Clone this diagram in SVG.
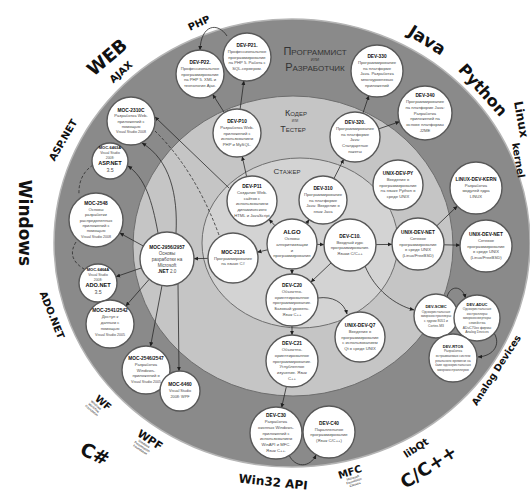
<svg xmlns="http://www.w3.org/2000/svg" width="530" height="497" viewBox="0 0 530 497">
<defs>
<style>
.n{fill:#fff;stroke:#585858;stroke-width:1.4}
.t{font-family:"Liberation Sans",sans-serif;font-weight:bold;font-size:4.8px;fill:#111}
.b{font-family:"Liberation Sans",sans-serif;font-size:4.2px;fill:#4a4a4a;text-anchor:middle}
.s{font-size:3.4px}
.s .t{font-size:4px}
.big{font-family:"Liberation Sans",sans-serif;font-weight:bold;font-size:5.6px;fill:#111}
.num{font-size:5.2px}
.lbl{font-family:"DejaVu Sans",sans-serif;font-weight:bold;fill:#111;text-anchor:middle}
.tiny{font-family:"Liberation Sans",sans-serif;font-size:3.2px;fill:#222;text-anchor:middle}
.rg{font-family:"Liberation Sans",sans-serif;font-variant:small-caps;fill:#333;text-anchor:middle}
.c{fill:none;stroke:#2a2a2a;stroke-width:0.8}
.d{stroke-dasharray:3 2}
</style>
<marker id="ar" viewBox="0 0 8 8" refX="7.5" refY="4" markerWidth="4.5" markerHeight="4.5" markerUnits="userSpaceOnUse" orient="auto"><path d="M0,0.5L8,4L0,7.5z" fill="#222"/></marker>
</defs>
<rect width="530" height="497" fill="#fff"/>

<g id="regions">
<ellipse cx="292" cy="243" rx="238" ry="224" fill="#8a8a8a" stroke="#b5b5b5" stroke-width="1.5"/>
<ellipse cx="293" cy="246" rx="160" ry="150" fill="#c5c5c5" stroke="#6e6e6e"/>
<ellipse cx="300" cy="243" rx="98" ry="85" fill="#d3d3d3" stroke="#6e6e6e"/>
<text class="rg" x="315" y="55" font-size="11">Программист</text>
<text class="rg" x="315" y="61" font-size="5">или</text>
<text class="rg" x="315" y="71" font-size="11">Разработчик</text>
<text class="rg" x="296" y="116" font-size="9">Кодер</text>
<text class="rg" x="295" y="122" font-size="4.5">или</text>
<text class="rg" x="293" y="132" font-size="9">Тестер</text>
<text class="rg" x="287" y="174" font-size="8">Стажер</text>
</g>

<g id="labels">
<text class="lbl" font-size="18" transform="translate(111,62) rotate(-40)">WEB</text>
<text class="lbl" font-size="10" transform="translate(123.3,74.6) rotate(-42)">AJAX</text>
<text class="lbl" font-size="10" transform="translate(200.5,26.2) rotate(-25)">PHP</text>
<text class="lbl" font-size="17" transform="translate(423.8,45.1) rotate(32)">Java</text>
<text class="lbl" font-size="16" transform="translate(478.8,93.7) rotate(48)">Python</text>
<text class="lbl" font-size="12" style="text-anchor:start" transform="translate(514,102) rotate(80)">Linux</text>
<text class="lbl" font-size="10" transform="translate(515,161) rotate(80)">kernel</text>
<text class="lbl" font-size="10" transform="translate(66,141.8) rotate(-60)">ASP.NET</text>
<text class="lbl" font-size="17" transform="translate(19,223) rotate(90)">Windows</text>
<text class="lbl" font-size="10" transform="translate(48.8,316.3) rotate(68)">ADO.NET</text>
<g transform="translate(101,405.5) rotate(40)">
<text class="lbl" font-size="10" x="0" y="0">WF</text>
<text class="tiny" x="-4" y="4">Windows</text>
<text class="tiny" x="-4" y="7.5">Workflow</text>
<text class="tiny" x="-4" y="11">Foundation</text>
</g>
<g transform="translate(148,443) rotate(33)">
<text class="lbl" font-size="11" x="0" y="0">WPF</text>
<text class="tiny" x="-3" y="4">Windows</text>
<text class="tiny" x="-3" y="7.5">Presentation</text>
<text class="tiny" x="-3" y="11">Foundation</text>
</g>
<text class="lbl" font-size="19" transform="translate(92.2,460) rotate(25)">C#</text>
<text class="lbl" font-size="12" transform="translate(272.6,486.2) rotate(6)">Win32 API</text>
<g transform="translate(351,475.3) rotate(-18)">
<text class="lbl" font-size="10" x="0" y="0">MFC</text>
<text class="tiny" x="1" y="4">Microsoft</text>
<text class="tiny" x="1" y="7.5">Foundation</text>
<text class="tiny" x="1" y="11">Classes</text>
</g>
<text class="lbl" font-size="10" transform="translate(417.9,450.9) rotate(-33)">libQt</text>
<text class="lbl" font-size="18" transform="translate(432,472) rotate(-33)">C/C++</text>
<text class="lbl" font-size="9.5" transform="translate(499,372) rotate(-57)">Analog Devices</text>
</g>

<g id="connectors">
<path class="c" marker-end="url(#ar)" d="M224.3,112.6L212.7,94.4"/>
<path class="c" marker-end="url(#ar)" d="M240.1,109.2L243.9,80.8"/>
<path class="c" marker-end="url(#ar)" d="M227,36C218,22 201,24 200,50"/>
<path class="c" marker-end="url(#ar)" d="M246.6,176.6L242.2,156.4"/>
<path class="c" marker-end="url(#ar)" d="M275,225.7L269,219.3"/>
<path class="c" marker-end="url(#ar)" d="M306.4,223.5L309.2,219.6"/>
<path class="c" marker-end="url(#ar)" d="M317,244.4L324,244.6"/>
<path class="c" marker-end="url(#ar)" d="M292,269L292,274"/>
<path class="c" marker-end="url(#ar)" d="M267.7,249.8L257.3,252.2"/>
<path class="c" marker-end="url(#ar)" d="M208,258.4L194,258.6"/>
<path class="c" marker-end="url(#ar)" d="M331.1,262.9L310.9,282.1"/>
<path class="c" marker-end="url(#ar)" d="M376,244.6L392,244.4"/>
<path class="c" marker-end="url(#ar)" d="M333.9,178.6L343.7,159.3"/>
<path class="c" marker-end="url(#ar)" d="M362.9,113.3L368.8,95.6"/>
<path class="c" marker-end="url(#ar)" d="M378.7,128.9L399.5,121.7"/>
<path class="c" marker-end="url(#ar)" d="M436.7,225.9L457.3,206.1"/>
<path class="c" marker-end="url(#ar)" d="M444,244.8L460,245.2"/>
<path class="c" marker-end="url(#ar)" d="M318,298C332,296 344,302 347,314"/>
<path class="c" marker-end="url(#ar)" d="M292,326L292,335"/>
<path class="c" marker-end="url(#ar)" d="M286.4,386.4L281.6,407.6"/>
<path class="c" marker-end="url(#ar)" d="M289,455C295,468 310,468 316,455"/>
<path class="c" marker-end="url(#ar)" d="M365,266C375,290 395,305 414,310"/>
<path class="c" marker-end="url(#ar)" d="M447,297C450,285 462,285 465.5,298"/>
<path class="c" marker-end="url(#ar)" d="M494,333C501,344 494,356 478,357"/>
<path class="c" marker-end="url(#ar)" d="M176,233C178,195 170,160 142,143"/>
<path class="c" marker-end="url(#ar)" d="M158,233C152,200 145,178 128,166"/>
<path class="c" marker-end="url(#ar)" d="M143.3,246L119.7,233"/>
<path class="c" marker-end="url(#ar)" d="M141.5,267.9L116,276.7"/>
<path class="c" marker-end="url(#ar)" d="M149.2,279.3L125.8,306"/>
<path class="c" marker-end="url(#ar)" d="M162,285.5L150.5,346.4"/>
<path class="c" marker-end="url(#ar)" d="M178,284L179,371"/>
<path class="c" marker-end="url(#ar)" d="M229,188L155,117"/>
<path class="c d" d="M155,131Q195,170 219,235"/>
<path class="c d" d="M93,165Q78,175 79,195"/>
<path class="c d" d="M76,242Q66,258 84,269"/>
</g>

<g id="DEV-P22"><circle class="n" cx="200" cy="74" r="24"/><text class="b" x="200" y="63.9"><tspan class="t" x="200">DEV-P22.</tspan><tspan x="200" dy="5.8">Профессиональное</tspan><tspan x="200" dy="5.8">программирование</tspan><tspan x="200" dy="5.8">на PHP 5. XML и</tspan><tspan x="200" dy="5.8">технология Ajax.</tspan></text></g>
<g id="DEV-P21"><circle class="n" cx="247" cy="57" r="24"/><text class="b" x="247" y="46.9"><tspan class="t" x="247">DEV-P21.</tspan><tspan x="247" dy="5.8">Профессиональное</tspan><tspan x="247" dy="5.8">программирование</tspan><tspan x="247" dy="5.8">на PHP 5. Работа с</tspan><tspan x="247" dy="5.8">SQL-сервером.</tspan></text></g>
<g id="DEV-P10"><circle class="n" cx="237" cy="133" r="24"/><text class="b" x="237" y="122.9"><tspan class="t" x="237">DEV-P10</tspan><tspan x="237" dy="5.8">Разработка Web-</tspan><tspan x="237" dy="5.8">приложений с</tspan><tspan x="237" dy="5.8">использованием</tspan><tspan x="237" dy="5.8">PHP и MySQL.</tspan></text></g>
<g id="DEV-P11"><circle class="n" cx="252" cy="201" r="25"/><text class="b" x="252" y="188"><tspan class="t" x="252">DEV-P11</tspan><tspan x="252" dy="5.8">Создание Web-</tspan><tspan x="252" dy="5.8">сайтов с</tspan><tspan x="252" dy="5.8">использованием</tspan><tspan x="252" dy="5.8">динамического</tspan><tspan x="252" dy="5.8">HTML и JavaScript</tspan></text></g>
<g id="DEV-330"><circle class="n" cx="377" cy="71" r="26"/><text class="b" x="377" y="58"><tspan class="t" x="377">DEV-330</tspan><tspan x="377" dy="5.8">Программирование</tspan><tspan x="377" dy="5.8">на платформе</tspan><tspan x="377" dy="5.8">Java. Разработка</tspan><tspan x="377" dy="5.8">многоуровневых</tspan><tspan x="377" dy="5.8">приложений</tspan></text></g>
<g id="DEV-340"><circle class="n" cx="425" cy="113" r="27"/><text class="b" x="425" y="97.1"><tspan class="t" x="425">DEV-340</tspan><tspan x="425" dy="5.8">Программирование</tspan><tspan x="425" dy="5.8">на платформе Java:</tspan><tspan x="425" dy="5.8">Разработка</tspan><tspan x="425" dy="5.8">приложений на</tspan><tspan x="425" dy="5.8">основе платформы</tspan><tspan x="425" dy="5.8">J2ME</tspan></text></g>
<g id="DEV-320"><circle class="n" cx="355" cy="137" r="25"/><text class="b" x="355" y="124"><tspan class="t" x="355">DEV-320.</tspan><tspan x="355" dy="5.8">Программирование</tspan><tspan x="355" dy="5.8">на платформе</tspan><tspan x="355" dy="5.8">Java:</tspan><tspan x="355" dy="5.8">Стандартные</tspan><tspan x="355" dy="5.8">пакеты</tspan></text></g>
<g id="DEV-310"><circle class="n" cx="323" cy="200" r="24"/><text class="b" x="323" y="189.9"><tspan class="t" x="323">DEV-310</tspan><tspan x="323" dy="5.8">Программирование</tspan><tspan x="323" dy="5.8">на платформе</tspan><tspan x="323" dy="5.8">Java: Введение в</tspan><tspan x="323" dy="5.8">язык Java</tspan></text></g>
<g id="UNIX-DEV-PY"><circle class="n" cx="398" cy="185" r="25"/><text class="b" x="398" y="174.9"><tspan class="t" x="398">UNIX-DEV-PY</tspan><tspan x="398" dy="5.8">Введение в</tspan><tspan x="398" dy="5.8">программирование</tspan><tspan x="398" dy="5.8">на языке Python в</tspan><tspan x="398" dy="5.8">среде UNIX</tspan></text></g>
<g id="LINUX-DEV-KERN"><circle class="n" cx="476" cy="188" r="26"/><text class="b" x="476" y="180.8"><tspan class="t" x="476">LINUX-DEV-KERN</tspan><tspan x="476" dy="5.8">Разработка</tspan><tspan x="476" dy="5.8">модулей ядра</tspan><tspan x="476" dy="5.8">LINUX</tspan></text></g>
<g id="UNIX-DEV-NET-1"><circle class="n" cx="418" cy="244" r="26"/><text class="b" x="418" y="233.9"><tspan class="t" x="418">UNIX-DEV-NET</tspan><tspan x="418" dy="5.8">Сетевое</tspan><tspan x="418" dy="5.8">программирование</tspan><tspan x="418" dy="5.8">в среде UNIX</tspan><tspan x="418" dy="5.8">(Linux/FreeBSD)</tspan></text></g>
<g id="UNIX-DEV-NET-2"><circle class="n" cx="486" cy="246" r="26"/><text class="b" x="486" y="235.9"><tspan class="t" x="486">UNIX-DEV-NET</tspan><tspan x="486" dy="5.8">Сетевое</tspan><tspan x="486" dy="5.8">программирование</tspan><tspan x="486" dy="5.8">в среде UNIX</tspan><tspan x="486" dy="5.8">(Linux/FreeBSD)</tspan></text></g>
<g id="ALGO"><circle class="n" cx="292" cy="244" r="25"/><text class="b" x="292" y="234"><tspan class="t" x="292" style="font-size:6px">ALGO</tspan><tspan x="292" dy="6">Основы</tspan><tspan x="292" dy="5.8">алгоритмизации</tspan><tspan x="292" dy="5.8">и</tspan><tspan x="292" dy="5.8">программирования</tspan></text></g>
<g id="DEV-C10"><circle class="n" cx="350" cy="245" r="26"/><text class="b" x="350" y="237.8"><tspan class="t" x="350">DEV-C10.</tspan><tspan x="350" dy="5.8">Вводный курс</tspan><tspan x="350" dy="5.8">программирования.</tspan><tspan x="350" dy="5.8">Языки С/С++</tspan></text></g>
<g id="MOC-2124"><circle class="n" cx="233" cy="258" r="25"/><text class="b" x="233" y="253.7"><tspan class="t" x="233">MOC-2124</tspan><tspan x="233" dy="5.8">Программирование</tspan><tspan x="233" dy="5.8">на языке C#</tspan></text></g>
<g id="DEV-C20"><circle class="n" cx="292" cy="300" r="26"/><text class="b" x="292" y="287"><tspan class="t" x="292">DEV-C20</tspan><tspan x="292" dy="5.8">Объектно-</tspan><tspan x="292" dy="5.8">ориентированное</tspan><tspan x="292" dy="5.8">программирование.</tspan><tspan x="292" dy="5.8">Базовый уровень.</tspan><tspan x="292" dy="5.8">Язык С++</tspan></text></g>
<g id="UNIX-DEV-Q7"><circle class="n" cx="360" cy="337" r="25"/><text class="b" x="360" y="326.9"><tspan class="t" x="360">UNIX-DEV-Q7</tspan><tspan x="360" dy="5.8">Введение в</tspan><tspan x="360" dy="5.8">программирование</tspan><tspan x="360" dy="5.8">с использованием</tspan><tspan x="360" dy="5.8">Qt в среде UNIX</tspan></text></g>
<g id="DEV-C21"><circle class="n" cx="292" cy="361" r="26"/><text class="b" x="292" y="345.1"><tspan class="t" x="292">DEV-C21</tspan><tspan x="292" dy="5.8">Объектно-</tspan><tspan x="292" dy="5.8">ориентированное</tspan><tspan x="292" dy="5.8">программирование.</tspan><tspan x="292" dy="5.8">Углубленное</tspan><tspan x="292" dy="5.8">изучение. Язык</tspan><tspan x="292" dy="5.8">С++</tspan></text></g>
<g id="DEV-C30"><circle class="n" cx="276" cy="433" r="26"/><text class="b" x="276" y="417.1"><tspan class="t" x="276">DEV-C30</tspan><tspan x="276" dy="5.8">Разработка</tspan><tspan x="276" dy="5.8">оконных Windows-</tspan><tspan x="276" dy="5.8">приложений с</tspan><tspan x="276" dy="5.8">использованием</tspan><tspan x="276" dy="5.8">WinAPI и MFC.</tspan><tspan x="276" dy="5.8">Язык C++.</tspan></text></g>
<g id="DEV-C40"><circle class="n" cx="329" cy="432" r="26"/><text class="b" x="329" y="424.8"><tspan class="t" x="329">DEV-C40</tspan><tspan x="329" dy="5.8">Параллельное</tspan><tspan x="329" dy="5.8">программирование</tspan><tspan x="329" dy="5.8">(Язык С/С++)</tspan></text></g>
<g id="DEV-SCMC"><circle class="n" cx="436" cy="316" r="22"/><text class="b s" x="436" y="308.1"><tspan class="t" x="436">DEV-SCMC</tspan><tspan x="436" dy="4.6">Однокристальные</tspan><tspan x="436" dy="4.6">микроконтроллеры</tspan><tspan x="436" dy="4.6">с ядром 8051 и</tspan><tspan x="436" dy="4.6">Cortex-M3</tspan></text></g>
<g id="DEV-ADUC"><circle class="n" cx="477" cy="318" r="23"/><text class="b s" x="477" y="305.5"><tspan class="t" x="477">DEV-ADUC</tspan><tspan x="477" dy="4.6">Однокристальные</tspan><tspan x="477" dy="4.6">контроллеры</tspan><tspan x="477" dy="4.6">микроконверторы</tspan><tspan x="477" dy="4.6">семейства</tspan><tspan x="477" dy="4.6">ADuC70xx фирмы</tspan><tspan x="477" dy="4.6">Analog Devices</tspan></text></g>
<g id="DEV-RTOS"><circle class="n" cx="453" cy="358" r="24"/><text class="b s" x="453" y="347.8"><tspan class="t" x="453">DEV-RTOS</tspan><tspan x="453" dy="4.6">Разработка</tspan><tspan x="453" dy="4.6">встраиваемых систем</tspan><tspan x="453" dy="4.6">реального времени на</tspan><tspan x="453" dy="4.6">базе однокристальных</tspan><tspan x="453" dy="4.6">микроконтроллеров</tspan></text></g>
<g id="MOC-2310C"><circle class="n" cx="131" cy="121" r="24"/><text class="b" x="131" y="111.7"><tspan class="t" x="131">MOC-2310C</tspan><tspan x="131" dy="5.4">Разработка Web-</tspan><tspan x="131" dy="5.4">приложений с</tspan><tspan x="131" dy="5.4">помощью</tspan><tspan x="131" dy="5.4" style="font-size:3.6px">Visual Studio 2008</tspan></text></g>
<g id="MOC-6463A"><circle class="n" cx="110" cy="161" r="18"/><text class="b s" x="110" y="149"><tspan class="t" x="110">MOC-6463A</tspan><tspan x="110" dy="5">Visual Studio</tspan><tspan x="110" dy="4.5">2008:</tspan><tspan class="big" x="110" dy="6.5">ASP.NET</tspan><tspan class="num" x="110" dy="6.5">3.5</tspan></text></g>
<g id="MOC-2548"><circle class="n" cx="96" cy="220" r="27"/><text class="b" x="96" y="205.3"><tspan class="t" x="96">MOC-2548</tspan><tspan x="96" dy="5.4">Основы</tspan><tspan x="96" dy="5.4">разработки</tspan><tspan x="96" dy="5.4">распределенных</tspan><tspan x="96" dy="5.4">приложений с</tspan><tspan x="96" dy="5.4">помощью</tspan><tspan x="96" dy="5.4" style="font-size:3.6px">Visual Studio 2008</tspan></text></g>
<g id="MOC-2956-2957"><circle class="n" cx="167" cy="259" r="27"/><text class="b" x="167" y="248.5" style="font-size:4.6px"><tspan class="t" x="167">MOC-2956/2957</tspan><tspan x="167" dy="6">Основы</tspan><tspan x="167" dy="6">разработки на</tspan><tspan x="167" dy="6">Microsoft</tspan><tspan x="167" dy="6"><tspan class="t">.NET</tspan> 2.0</tspan></text></g>
<g id="MOC-6464A"><circle class="n" cx="98" cy="283" r="19"/><text class="b s" x="98" y="271"><tspan class="t" x="98">MOC-6464A</tspan><tspan x="98" dy="5">Visual Studio</tspan><tspan x="98" dy="4.5">2008:</tspan><tspan class="big" x="98" dy="6.5">ADO.NET</tspan><tspan class="num" x="98" dy="6.5">3.5</tspan></text></g>
<g id="MOC-2541-2542"><circle class="n" cx="110" cy="324" r="24"/><text class="b" x="110" y="312"><tspan class="t" x="110">MOC-2541/2542</tspan><tspan x="110" dy="6">Доступ к</tspan><tspan x="110" dy="6">данным с</tspan><tspan x="110" dy="6">помощью</tspan><tspan x="110" dy="5.6" style="font-size:3.6px">Visual Studio 2005</tspan></text></g>
<g id="MOC-2546-2547"><circle class="n" cx="146" cy="370" r="24"/><text class="b" x="146" y="360.3"><tspan class="t" x="146">MOC-2546/2547</tspan><tspan x="146" dy="5.6">Разработка</tspan><tspan x="146" dy="5.6">Windows-</tspan><tspan x="146" dy="5.6">приложений в</tspan><tspan x="146" dy="5.6" style="font-size:3.6px">Visual Studio 2005</tspan></text></g>
<g id="MOC-6460"><circle class="n" cx="180" cy="391" r="20"/><text class="b" x="180" y="386"><tspan class="t" x="180">MOC-6460</tspan><tspan x="180" dy="6" style="font-size:3.8px">Visual Studio</tspan><tspan x="180" dy="5.5" style="font-size:3.8px">2008: WPF</tspan></text></g>
</svg>
